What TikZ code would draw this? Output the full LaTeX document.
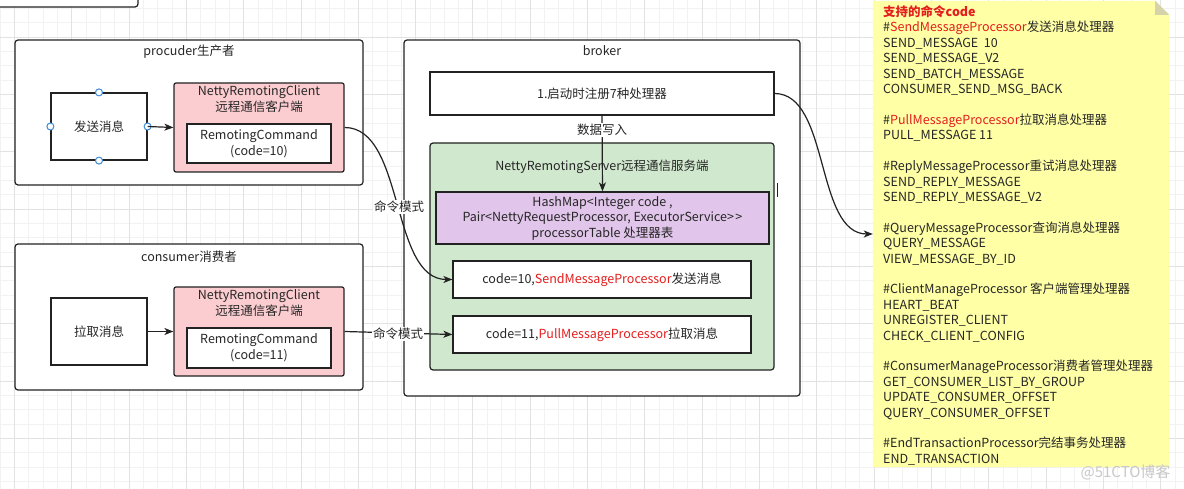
\documentclass[tikz,border=0pt]{standalone}
\usepackage{fontspec}
\setmainfont{Noto Sans CJK SC}
\usetikzlibrary{arrows.meta}
\definecolor{ink}{RGB}{34,34,34}
\definecolor{txt}{RGB}{38,38,38}
\definecolor{pinkf}{RGB}{252,205,208}
\definecolor{greenf}{RGB}{208,232,206}
\definecolor{purplef}{RGB}{225,197,234}
\definecolor{notef}{RGB}{255,255,166}
\definecolor{foldf}{RGB}{214,210,170}
\definecolor{cred}{RGB}{228,30,30}
\definecolor{handlec}{RGB}{62,140,220}
\definecolor{gminor}{RGB}{242,242,242}
\definecolor{gmajor}{RGB}{226,226,226}
\definecolor{wmark}{RGB}{200,200,200}
\begin{document}
\begin{tikzpicture}[x=1pt,y=-1pt,
  every node/.style={font=\fontsize{12.5}{14}\selectfont, text=txt},
  box/.style={draw=ink, line width=1.2pt, fill=white, inner sep=0pt},
  rbox/.style={box, rounded corners=3pt},
  twoline/.style={align=center, font=\fontsize{12.5}{16}\selectfont},
  lbl/.style={fill=white, inner sep=1pt},
  conn/.style={draw=ink, line width=1.2pt, -{Stealth[length=9pt,width=7pt,inset=2.5pt]}},
  handle/.style={draw=handlec, line width=1pt, fill=white},
  notetext/.style={anchor=base west, inner sep=0pt},
  gridminor/.style={draw=gminor, line width=0.8pt},
  gridmajor/.style={draw=gmajor, line width=0.8pt}
]
\useasboundingbox (0,0) rectangle (1184,489);
\fill[white] (0,0) rectangle (1184,489);
% grid
\foreach \k in {0,...,82} \draw[gridminor] (\k*14.33,0) -- (\k*14.33,489);
\foreach \j in {0,...,33} \draw[gridminor] (0,8.4+\j*14.33) -- (1184,8.4+\j*14.33);
\foreach \k in {1,5,...,81} \draw[gridmajor] (\k*14.33,0) -- (\k*14.33,489);
\foreach \j in {2,6,...,34} \draw[gridmajor] (0,8.4+\j*14.33) -- (1184,8.4+\j*14.33);

% partial box at top left
\node[rbox, minimum width=156pt, minimum height=34pt] (prev) at (60,-10) {};

% producer
\node[rbox, minimum width=348pt, minimum height=145pt] (prod) at (189,112.5) {};
\node (prodt) at (189,52) {procuder生产者};
\node[box, minimum width=96pt, minimum height=67pt] (send) at (99,126.5) {发送消息};
\foreach \a in {north,south,east,west} \draw[handle] (send.\a) circle (3.5pt);
\node[rbox, fill=pinkf, rounded corners=2pt, minimum width=170pt, minimum height=89pt] (cliP) at (259,127.5) {};
\node[twoline] (cliPt) at (259,99) {NettyRemotingClient\\远程通信客户端};
\node[box, twoline, minimum width=144pt, minimum height=39pt] (cmdP) at (259,143.5) {RemotingCommand\\(code=10)};
\draw[conn] (send.east) -- (cliP.west);

% consumer
\node[rbox, minimum width=348pt, minimum height=146pt] (cons) at (189,317) {};
\node (const) at (189,257) {consumer消费者};
\node[box, minimum width=96pt, minimum height=67pt] (pull) at (99,331.5) {拉取消息};
\node[rbox, fill=pinkf, rounded corners=2pt, minimum width=170pt, minimum height=89pt] (cliC) at (259,331.5) {};
\node[twoline] (cliCt) at (259,303.5) {NettyRemotingClient\\远程通信客户端};
\node[box, twoline, minimum width=144pt, minimum height=40pt] (cmdC) at (259,348) {RemotingCommand\\(code=11)};
\draw[conn] (pull.east) -- (cliC.west);

% broker
\node[rbox, minimum width=396pt, minimum height=356pt] (broker) at (602,218) {};
\node (brokert) at (602,51) {broker};
\node[box, minimum width=344pt, minimum height=43pt] (reg) at (602,93.5) {1.启动时注册7种处理器};
\node[rbox, fill=greenf, minimum width=344pt, minimum height=227pt] (srv) at (602,256.5) {};
\node (srvt) at (602,167) {NettyRemotingServer远程通信服务端};
\node[box, fill=purplef, align=center, font=\fontsize{12.5}{15.5}\selectfont, minimum width=333pt, minimum height=52pt] (tbl) at (602.5,218) {HashMap<Integer code ,\\Pair<NettyRequestProcessor, ExecutorService>\kern1.5pt>\\processorTable 处理器表};
\node[box, minimum width=298pt, minimum height=37pt] (c10) at (602,279.5) {code=10,\textcolor{cred}{SendMessageProcessor}发送消息};
\node[box, minimum width=298pt, minimum height=37pt] (c11) at (602,334.5) {code=11,\textcolor{cred}{PullMessageProcessor}拉取消息};
\draw[conn] (reg.south) -- (tbl.north);
\node[lbl] (dw) at (602,130) {数据写入};
\draw[ink, line width=1pt] (777,183) -- (777,197);

% note
\node[minimum width=296pt, minimum height=466pt, inner sep=0pt] (note) at (1021,234) {};
\fill[notef] (note.north west) -- ([xshift=-14pt]note.north east) -- ([yshift=-14pt]note.north east) -- (note.south east) -- (note.south west) -- cycle;
\fill[foldf] ([xshift=-14pt]note.north east) -- ([xshift=-14pt,yshift=-14pt]note.north east) -- ([yshift=-14pt]note.north east) -- cycle;
\foreach \k/\t in {
 0/{\textbf{\textcolor{cred}{支持的命令code}}},
 1/{\#\textcolor{cred}{SendMessageProcessor}发送消息处理器},
 2/{SEND\_MESSAGE\ \ 10},
 3/{SEND\_MESSAGE\_V2},
 4/{SEND\_BATCH\_MESSAGE},
 5/{CONSUMER\_SEND\_MSG\_BACK},
 7/{\#\textcolor{cred}{PullMessageProcessor}拉取消息处理器},
 8/{PULL\_MESSAGE 11},
 10/{\#ReplyMessageProcessor重试消息处理器},
 11/{SEND\_REPLY\_MESSAGE},
 12/{SEND\_REPLY\_MESSAGE\_V2},
 14/{\#QueryMessageProcessor查询消息处理器},
 15/{QUERY\_MESSAGE},
 16/{VIEW\_MESSAGE\_BY\_ID},
 18/{\#ClientManageProcessor 客户端管理处理器},
 19/{HEART\_BEAT},
 20/{UNREGISTER\_CLIENT},
 21/{CHECK\_CLIENT\_CONFIG},
 23/{\#ConsumerManageProcessor消费者管理处理器},
 24/{GET\_CONSUMER\_LIST\_BY\_GROUP},
 25/{UPDATE\_CONSUMER\_OFFSET},
 26/{QUERY\_CONSUMER\_OFFSET},
 28/{\#EndTransactionProcessor完结事务处理器},
 29/{END\_TRANSACTION}}
 \node[notetext] (n\k) at (883,16.5+\k*15.41) {\t};

% connectors
\draw[conn] (cliP.east) .. controls (405,127.5) and (390,279.5) .. (c10.west);
\node[lbl] (m1) at (399,207) {命令模式};
\draw[conn] (cliC.east) -- (c11.west);
\node[lbl] (m2) at (398,334) {命令模式};
\draw[conn] (reg.east) .. controls (830,93.5) and (815,234) .. (note.west);

\node[text=wmark, font=\fontsize{15}{15}\selectfont, anchor=east] (wm) at (1174,472) {@51CTO博客};
\end{tikzpicture}
\end{document}
